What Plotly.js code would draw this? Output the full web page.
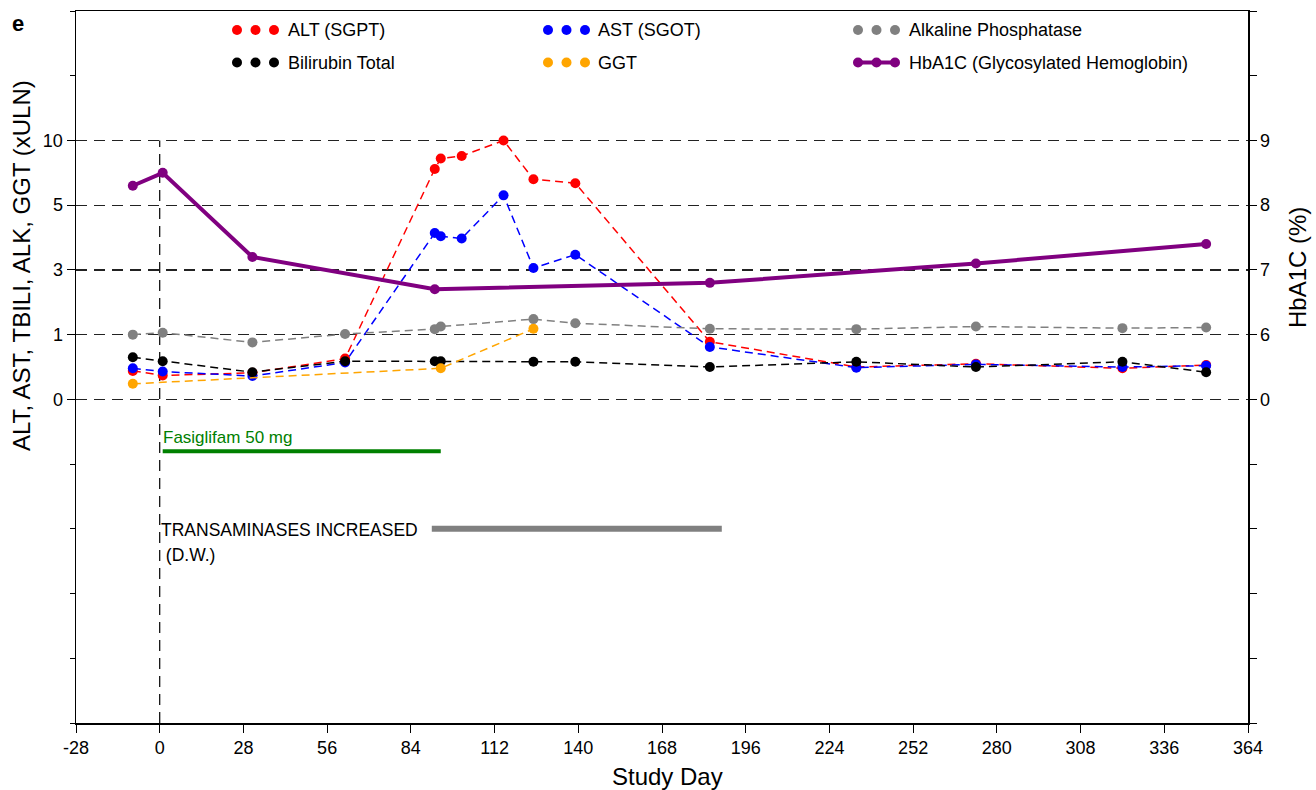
<!DOCTYPE html>
<html>
<head>
<meta charset="utf-8">
<script src="https://cdn.plot.ly/plotly-3.0.1.min.js"></script>
<style>html,body{margin:0;padding:0;background:#fff;}#chart{width:1316px;height:790px;}</style>
</head>
<body>
<div id="chart"></div>
<script>
// ---- data ----
const altDays = [-9, 1, 31, 62, 92, 94, 101, 115, 125, 139, 184, 233, 273, 322, 350];
const altVals = [0.44, 0.37, 0.41, 0.63, 7.8, 8.6, 8.8, 10.0, 7.0, 6.7, 0.89, 0.50, 0.55, 0.48, 0.53];
const astDays = [-9, 1, 31, 62, 92, 94, 101, 115, 125, 139, 184, 233, 273, 322, 350];
const astVals = [0.48, 0.43, 0.36, 0.57, 4.14, 4.04, 3.97, 5.76, 3.06, 3.47, 0.81, 0.49, 0.54, 0.50, 0.52];
const alkDays = [-9, 1, 31, 62, 92, 94, 125, 139, 184, 233, 273, 322, 350];
const alkVals = [1.0, 1.06, 0.88, 1.02, 1.17, 1.25, 1.48, 1.35, 1.18, 1.17, 1.25, 1.20, 1.22];
const tbiliDays = [-9, 1, 31, 62, 92, 94, 125, 139, 184, 233, 273, 322, 350];
const tbiliVals = [0.65, 0.59, 0.42, 0.59, 0.59, 0.59, 0.58, 0.58, 0.50, 0.58, 0.50, 0.58, 0.42];
const ggtDays = [-9, 94, 125];
const ggtVals = [0.24, 0.48, 1.18];
const hba1cDays = [-9, 1, 31, 92, 184, 273, 350];
const hba1cVals = [8.3, 8.5, 7.2, 6.7, 6.8, 7.1, 7.4];

const dosingLabel = "Fasiglifam 50 mg";
const dosingDays = [1, 94];
const aeLabel = "TRANSAMINASES INCREASED";
const aeSub = " (D.W.)";
const aeDays = [91, 188];

const xTicks = [-28, 0, 28, 56, 84, 112, 140, 168, 196, 224, 252, 280, 308, 336, 364];
const leftTickVals = [0, 1, 3, 5, 10];
const rightTickVals = [0, 6, 7, 8, 9];

const legendNames = ["ALT (SGPT)", "AST (SGOT)", "Alkaline Phosphatase", "Bilirubin Total", "GGT", "HbA1C (Glycosylated Hemoglobin)"];

// ---- piecewise axis scales (the original uses uneven tick spacing) ----
function leftScale(v) {            // xULN -> axis units
  if (v <= 1) return v;
  if (v <= 3) return 1 + (v - 1) / 2;
  if (v <= 5) return 2 + (v - 3) / 2;
  return 3 + (v - 5) / 5;
}
function rightScale(h) {           // HbA1C % -> axis units
  if (h <= 6) return h / 6;
  return h - 5;
}

const FONT = "Liberation Sans, Arial, Helvetica, sans-serif";
const colors = {alt: "#ff0000", ast: "#0000ff", alk: "#808080", tbili: "#000000", ggt: "#ffa500", hba1c: "#800080"};
const dashStyle = "8px,5px";

function labTrace(days, vals, color, name) {
  return {
    type: "scatter", mode: "lines+markers", name: name, showlegend: false,
    x: days, y: vals.map(leftScale), xaxis: "x", yaxis: "y",
    line: {color: color, width: 1.5, dash: dashStyle},
    marker: {color: color, size: 10}, cliponaxis: false, hoverinfo: "x+text",
    text: vals.map(String)
  };
}

const traces = [
  labTrace(altDays, altVals, colors.alt, legendNames[0]),
  labTrace(astDays, astVals, colors.ast, legendNames[1]),
  labTrace(alkDays, alkVals, colors.alk, legendNames[2]),
  labTrace(tbiliDays, tbiliVals, colors.tbili, legendNames[3]),
  labTrace(ggtDays, ggtVals, colors.ggt, legendNames[4]),
  {
    type: "scatter", mode: "lines+markers", name: legendNames[5], showlegend: false,
    x: hba1cDays, y: hba1cVals.map(rightScale), xaxis: "x", yaxis: "y2",
    line: {color: colors.hba1c, width: 4}, marker: {color: colors.hba1c, size: 10},
    hoverinfo: "x+text", text: hba1cVals.map(String)
  },
  {
    type: "scatter", mode: "lines", showlegend: false, hoverinfo: "skip",
    x: dosingDays, y: [-0.8, -0.8], xaxis: "x", yaxis: "y",
    line: {color: "#008000", width: 4}
  },
  {
    type: "scatter", mode: "lines", showlegend: false, hoverinfo: "skip",
    x: aeDays, y: [-2, -2], xaxis: "x", yaxis: "y",
    line: {color: "#808080", width: 6}
  }
];

// ---- plot geometry (pixels) for the hand-drawn legend ----
const L = 76, R = 68, T = 11, B = 67, W = 1316, H = 790;
const pw = W - L - R, ph = H - T - B;
const px = v => (v - L) / pw;
const py = v => (H - B - v) / ph;

const shapes = [
  {type: "line", xref: "x", yref: "y", x0: 0, x1: 0, y0: -5, y1: leftScale(10),
   line: {color: "#000", width: 1.2, dash: "11px,7px"}, layer: "below"}
];
const annotations = [];

const legendCols = [237, 548, 858];
const legendRows = [30, 62.5];
const legendTextX = [286, 596, 907];
const legendColors = [colors.alt, colors.ast, colors.alk, colors.tbili, colors.ggt, colors.hba1c];
legendNames.forEach((name, i) => {
  const c = i % 3, r = Math.floor(i / 3);
  const y = legendRows[r];
  if (i === 5) {
    shapes.push({type: "line", xref: "paper", yref: "paper",
      x0: px(legendCols[c]), x1: px(legendCols[c] + 37), y0: py(y), y1: py(y),
      line: {color: legendColors[i], width: 4}});
  }
  for (let k = 0; k < 3; k++) {
    const cx = px(legendCols[c] + 18.5 * k), cy = py(y);
    shapes.push({type: "circle", xref: "paper", yref: "paper",
      xsizemode: "pixel", ysizemode: "pixel", xanchor: cx, yanchor: cy,
      x0: -5, x1: 5, y0: -5, y1: 5,
      fillcolor: legendColors[i], line: {width: 0}});
  }
  annotations.push({xref: "paper", yref: "paper", x: px(legendTextX[c]), y: py(y),
    xanchor: "left", yanchor: "middle", showarrow: false, text: name,
    font: {family: FONT, size: 18, color: "#000"}});
});

annotations.push(
  {xref: "paper", yref: "paper", x: px(18), y: py(23), xanchor: "center", yanchor: "middle",
   showarrow: false, text: "<b>e</b>", font: {family: FONT, size: 22, color: "#000"}},
  {xref: "paper", yref: "paper", x: px(21), y: py(266), xanchor: "center", yanchor: "middle",
   showarrow: false, textangle: -90,
   text: "ALT, AST, TBILI, ALK, GGT (xULN)", font: {family: FONT, size: 24, color: "#000"}},
  {xref: "paper", yref: "paper", x: px(1297), y: py(268), xanchor: "center", yanchor: "middle",
   showarrow: false, textangle: -90,
   text: "HbA1C (%)", font: {family: FONT, size: 24, color: "#000"}},
  {xref: "paper", yref: "paper", x: px(667), y: py(776), xanchor: "center", yanchor: "middle",
   showarrow: false, text: "Study Day", font: {family: FONT, size: 24, color: "#000"}},
  {xref: "x", yref: "y", x: 0.3, y: -0.59, xanchor: "left", yanchor: "middle", showarrow: false,
   text: dosingLabel, font: {family: FONT, size: 17, color: "#008000"}},
  {xref: "x", yref: "y", x: -0.4, y: -2.02, xanchor: "left", yanchor: "middle", showarrow: false,
   text: aeLabel, font: {family: FONT, size: 17.5, color: "#000"}},
  {xref: "x", yref: "y", x: -0.4, y: -2.41, xanchor: "left", yanchor: "middle", showarrow: false,
   text: aeSub, font: {family: FONT, size: 17.5, color: "#000"}}
);

const allUnits = [-5, -4, -3, -2, -1, 0, 1, 2, 3, 4, 5, 6];
const rightText = allUnits.map(u => {
  const idx = rightTickVals.map(rightScale).indexOf(u);
  return idx >= 0 ? String(rightTickVals[idx]) : "";
});

const layout = {
  width: W, height: H, autosize: false,
  margin: {l: L, r: R, t: T, b: B, pad: 0},
  paper_bgcolor: "#fff", plot_bgcolor: "#fff",
  font: {family: FONT, size: 18, color: "#000"},
  showlegend: false,
  xaxis: {
    range: [-28, 364], tickvals: xTicks, ticktext: xTicks.map(String),
    ticks: "outside", ticklen: 8, tickwidth: 1, tickcolor: "#000",
    showline: true, mirror: true, linecolor: "#000", linewidth: 1.5,
    showgrid: false, zeroline: false, tickfont: {family: FONT, size: 18, color: "#000"}
  },
  yaxis: {
    range: [-5, 6], tickvals: leftTickVals.map(leftScale), ticktext: leftTickVals.map(String),
    ticks: "outside", ticklen: 8, tickwidth: 1, tickcolor: "#000",
    showline: true, linecolor: "#000", linewidth: 1.5,
    showgrid: true, gridcolor: "#222", gridwidth: 1.2, griddash: "11px,7px",
    zeroline: false, tickfont: {family: FONT, size: 18, color: "#000"},
    minor: {tickvals: allUnits, ticks: "outside", ticklen: 5, tickcolor: "#000", showgrid: false}
  },
  yaxis2: {
    overlaying: "y", side: "right", range: [-5, 6],
    tickvals: allUnits, ticktext: rightText,
    ticks: "outside", ticklen: 7, tickwidth: 1, tickcolor: "#000",
    showline: true, linecolor: "#000", linewidth: 1.5,
    showgrid: false, zeroline: false, tickfont: {family: FONT, size: 18, color: "#000"}
  },
  shapes: shapes,
  annotations: annotations
};

Plotly.newPlot("chart", traces, layout, {displayModeBar: false, staticPlot: true});
</script>
</body>
</html>
